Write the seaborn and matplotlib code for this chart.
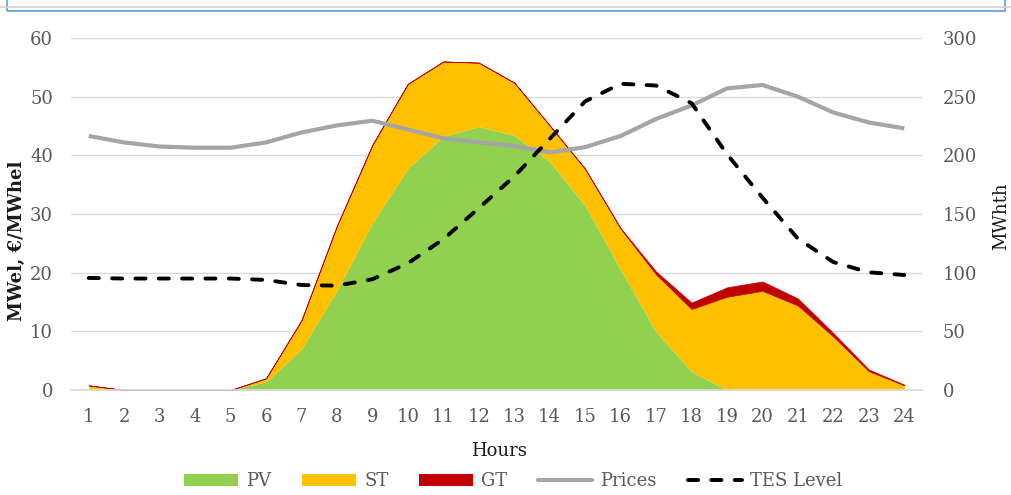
import numpy as np
import pandas as pd
import matplotlib
matplotlib.use("Agg")
import matplotlib.pyplot as plt
from matplotlib.patches import Patch, Rectangle
from matplotlib.lines import Line2D
from matplotlib.ticker import MultipleLocator, FixedLocator
import seaborn as sns

# Hourly dispatch data
hours = list(range(1, 25))
pv = [0, 0, 0, 0, 0, 1.4, 7.0, 17.0, 28.5, 37.8, 43.2, 44.9,
      43.4, 38.9, 31.4, 20.5, 9.9, 3.1, 0, 0, 0, 0, 0, 0]
st = [0.8, 0, 0, 0, 0, 0.6, 4.9, 11.0, 13.3, 14.4, 12.8, 10.9,
      9.0, 6.2, 6.3, 7.0, 9.8, 10.7, 15.9, 16.9, 14.4, 9.1, 3.2, 0.8]
gt = [0, 0, 0, 0, 0, 0, 0, 0, 0, 0, 0, 0,
      0, 0, 0, 0.1, 0.5, 1.1, 1.6, 1.6, 1.2, 0.6, 0.3, 0.1]
prices = [43.3, 42.2, 41.5, 41.3, 41.3, 42.2, 43.9, 45.1, 45.9, 44.4, 42.9, 42.2,
          41.6, 40.5, 41.4, 43.3, 46.2, 48.5, 51.4, 52.0, 50.0, 47.3, 45.6, 44.6]
tes_level = [95.5, 95, 95, 95, 95, 93.8, 89.5, 88.9, 94.4, 108, 128.5, 155,
             182, 214, 246, 261, 259.5, 244.5, 201, 164, 129, 109, 100.3, 98]

df = pd.DataFrame({"hour": hours, "PV": pv, "ST": st, "GT": gt,
                   "Prices": prices, "TES": tes_level})

sns.set_theme(style="white")
plt.rcParams["font.family"] = ["DejaVu Serif", "DejaVu Sans"]

C_PV, C_ST, C_GT = "#92D050", "#FFC000", "#C00000"
C_PRICE, C_GRID, C_TXT = "#A5A5A5", "#D9D9D9", "#595959"
FS = 13

fig = plt.figure(figsize=(10.11, 4.95), dpi=100)
ax = fig.add_axes([71 / 1011, 1 - 390 / 495, 851 / 1011, 352 / 495])
ax2 = ax.twinx()

# Stacked generation areas
x = df["hour"].to_numpy()
y_pv = df["PV"].to_numpy()
y_st = y_pv + df["ST"].to_numpy()
y_gt = y_st + df["GT"].to_numpy()
ax.fill_between(x, 0, y_pv, color=C_PV, lw=0, zorder=1)
ax.fill_between(x, y_pv, y_st, color=C_ST, lw=0, zorder=1)
ax.fill_between(x, y_st, y_gt, facecolor=C_GT, edgecolor=C_GT, lw=0.5, zorder=1.1)

# Price line (left axis) and storage level (right axis)
sns.lineplot(data=df, x="hour", y="Prices", ax=ax, color=C_PRICE, lw=3.0,
             zorder=3, solid_capstyle="butt")
sns.lineplot(data=df, x="hour", y="TES", ax=ax2, color="black", lw=2.8,
             linestyle=(0, (2.6, 3.4)), dash_capstyle="round", zorder=4)

# Axes, grid, ticks
ax.set_xlim(0.5, 24.5)
ax.set_ylim(0, 60)
ax2.set_ylim(0, 300)
ax.yaxis.set_major_locator(MultipleLocator(10))
ax2.yaxis.set_major_locator(MultipleLocator(50))
ax.set_xticks(hours)
ax.set_xticklabels([str(h) for h in hours])
ax.xaxis.set_minor_locator(FixedLocator(np.arange(0.5, 25, 1.0)))

ax.grid(axis="y", color=C_GRID, lw=1.0, zorder=0)
ax.set_axisbelow(True)
ax2.grid(False)
ax2.set_zorder(ax.get_zorder() + 1)
ax2.patch.set_visible(False)

for a in (ax, ax2):
    for side in ("left", "right", "top", "bottom"):
        a.spines[side].set_visible(False)
ax.spines["bottom"].set_visible(True)
ax.spines["bottom"].set_color(C_GRID)
ax.spines["bottom"].set_linewidth(1.2)
ax.spines["bottom"].set_zorder(2.5)

ax.tick_params(axis="x", which="major", length=0, pad=13, labelsize=FS, labelcolor=C_TXT)
ax.tick_params(axis="x", which="minor", length=6, width=1.0, color=C_GRID, direction="out")
ax.tick_params(axis="y", length=0, pad=13, labelsize=FS, labelcolor=C_TXT)
ax2.tick_params(axis="y", length=0, pad=15, labelsize=FS, labelcolor=C_TXT)

ax.set_xlabel("Hours", fontsize=FS, color="#1a1a1a", va="center")
ax.xaxis.set_label_coords((499 - 71) / 851, -(451 - 390) / 352)
ax.set_ylabel("MWel, €/MWhel", fontsize=FS, fontweight="bold", color="#1a1a1a",
              va="center")
ax.yaxis.set_label_coords((17 - 71) / 851, (390 - 241) / 352)
ax2.set_ylabel("MWhth", fontsize=FS, color="#1a1a1a", va="center", rotation=90)
ax2.yaxis.set_label_coords((1001 - 71) / 851, (390 - 216) / 352)

# Legend
handles = [
    Patch(facecolor=C_PV, edgecolor="none", label="PV"),
    Patch(facecolor=C_ST, edgecolor="none", label="ST"),
    Patch(facecolor=C_GT, edgecolor="none", label="GT"),
    Line2D([], [], color=C_PRICE, lw=3.0, label="Prices"),
    Line2D([], [], color="black", lw=2.8, linestyle=(0, (2.6, 3.4)),
           dash_capstyle="round", label="TES Level"),
]
leg = fig.legend(handles=handles, loc="center", ncol=5, frameon=False,
                 bbox_to_anchor=(513 / 1011, 1 - 481 / 495), fontsize=FS,
                 handlelength=3.0, handleheight=0.65, handletextpad=0.45,
                 columnspacing=1.7)
for t in leg.get_texts():
    t.set_color(C_TXT)

# Frame of the title box above the plot
fig.add_artist(Line2D([0, 1], [1 - 7 / 495, 1 - 7 / 495], transform=fig.transFigure,
                      color="#D0D0D0", lw=1.2))
fig.add_artist(Rectangle((7 / 1011, 1 - 11 / 495), (1005 - 7) / 1011, 20 / 495,
                         transform=fig.transFigure, facecolor="none",
                         edgecolor="#5B9BD5", lw=1.2))

fig.savefig("out.png", dpi=100, facecolor="white")
